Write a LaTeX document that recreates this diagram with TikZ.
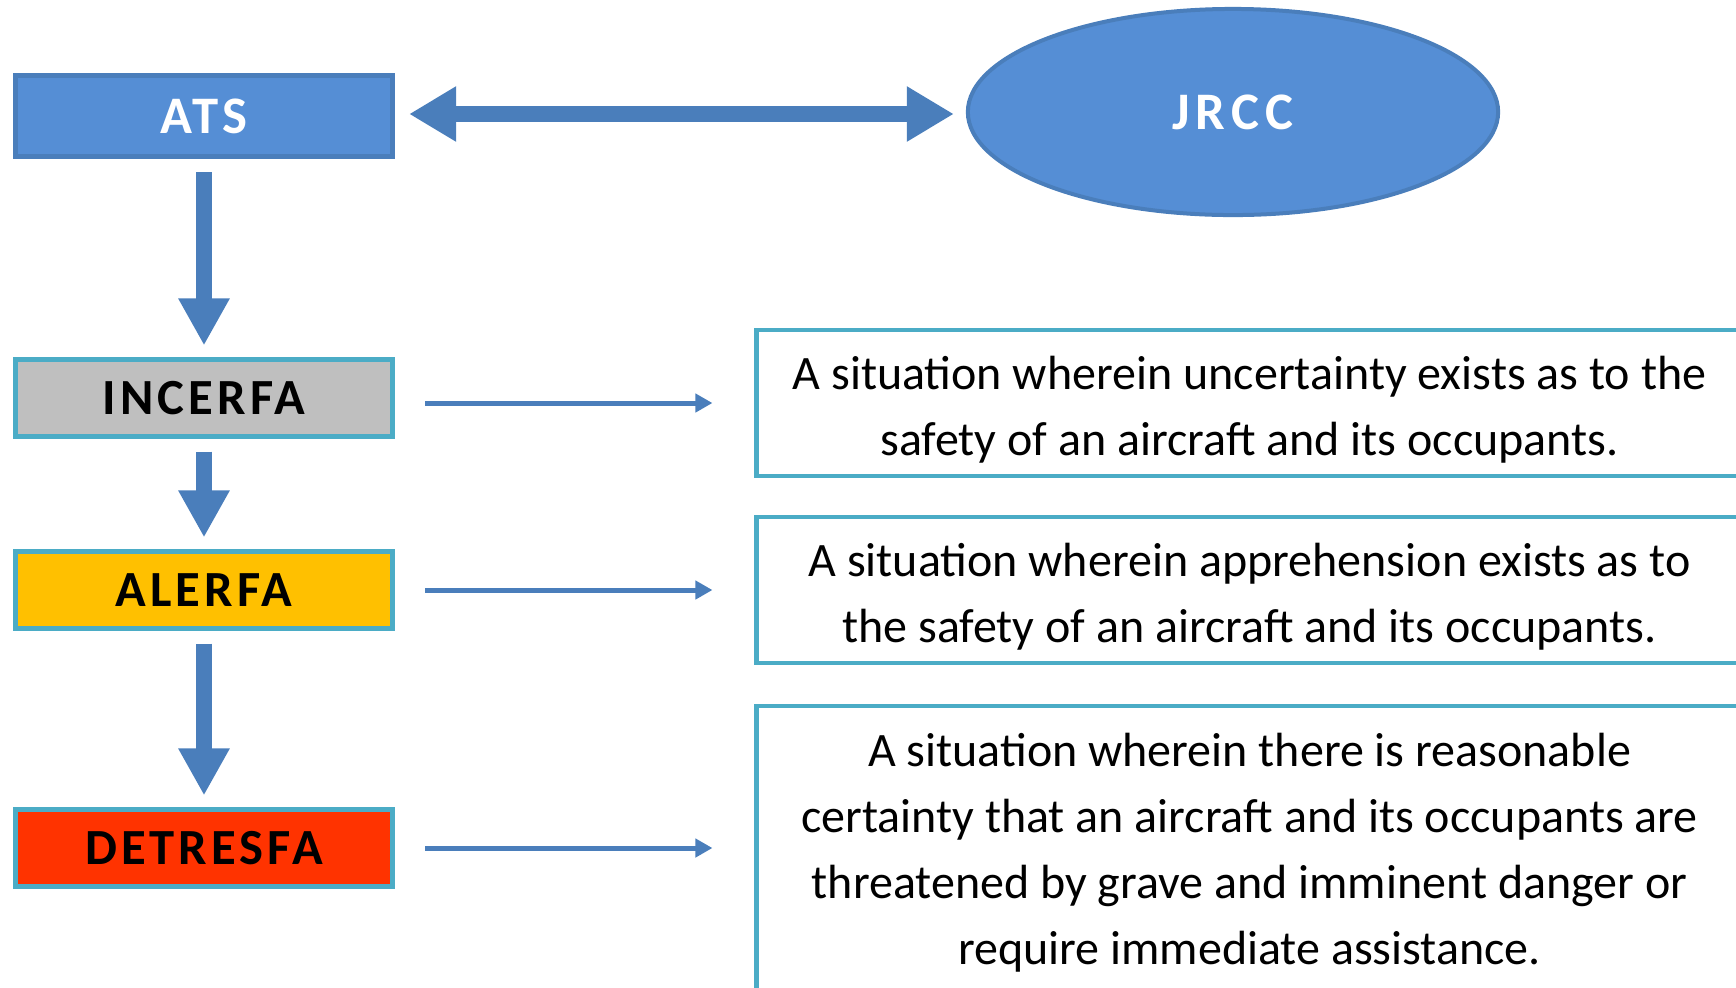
\documentclass[tikz,border=0pt]{standalone}
\usepackage{fontspec}
\setmainfont{Carlito}
\newfontfamily\spacedfont[LetterSpace=8]{Carlito}
\newfontfamily\widefont[LetterSpace=12]{Carlito}
\newcommand{\descstrut}{\rule{0pt}{0.46cm}}
\usetikzlibrary{arrows.meta,shapes.geometric}

\definecolor{atsblue}{HTML}{558ED5}
\definecolor{atsedge}{HTML}{4A7EBB}
\definecolor{arrowblue}{HTML}{4A7EBB}
\definecolor{framecyan}{HTML}{4BACC6}
\definecolor{incgray}{HTML}{BFBFBF}
\definecolor{alertyellow}{HTML}{FFC000}
\definecolor{distressred}{HTML}{FF3300}

\tikzset{
  statebox/.style={draw=framecyan, line width=0.05cm, minimum width=3.77cm, minimum height=0.76cm, inner sep=0pt, font=\spacedfont\bfseries\fontsize{14.4}{16}\selectfont},
  descbox/.style={draw=framecyan, line width=0.045cm, fill=white, minimum width=9.85cm, inner sep=0pt, align=center, font=\fontsize{13.65}{18.8}\selectfont},
  bigarrow/.style={draw=arrowblue, line width=0.16cm, -{Triangle[length=0.47cm,width=0.48cm]}, shorten <=0.13cm, shorten >=0.12cm},
  thinarrow/.style={draw=arrowblue, line width=0.05cm, -{Triangle[length=0.17cm,width=0.18cm]}, shorten <=0.3cm, shorten >=0.42cm},
}

\begin{document}
\begin{tikzpicture}[x=0.01cm,y=-0.01cm]
        \useasboundingbox (0,0) rectangle (1736,987);

        % top row
        \node[draw=atsedge, fill=atsblue, line width=0.05cm, minimum width=3.77cm, minimum height=0.81cm, inner sep=0pt, text=white, font=\spacedfont\bfseries\fontsize{15}{16}\selectfont] (ats) at (204,116) {ATS};
        \node[ellipse, draw=atsedge, fill=atsblue, line width=0.04cm, minimum width=5.30cm, minimum height=2.06cm, inner sep=0pt, text=white, font=\widefont\bfseries\fontsize{15}{16}\selectfont] (jrcc) at (1233,112) {JRCC};
        \draw[bigarrow, {Triangle[length=0.47cm,width=0.52cm]}-{Triangle[length=0.47cm,width=0.52cm]}, shorten <=0.14cm, shorten >=0.12cm] ([yshift=0.02cm]ats.east) -- ([yshift=0.02cm]ats.east -| jrcc.west);

        % alert phases
        \node[statebox, fill=incgray] (incerfa) at (204,398) {INCERFA};
        \node[statebox, fill=alertyellow] (alerfa) at (204,590) {ALERFA};
        \node[statebox, fill=distressred] (detresfa) at (204,848) {DETRESFA};

        \draw[bigarrow] (ats) -- (incerfa);
        \draw[bigarrow] (incerfa) -- (alerfa);
        \draw[bigarrow] (alerfa) -- (detresfa);

        % descriptions
        \node[descbox, minimum height=1.46cm] (incdesc) at (1249.5,403) {\descstrut A situation wherein uncertainty exists as to the\\safety of an aircraft and its occupants.};
        \node[descbox, minimum height=1.46cm] (alerdesc) at (1249.5,590) {\descstrut A situation wherein apprehension exists as to\\the safety of an aircraft and its occupants.};
        \node[descbox, minimum height=2.94cm] (detrdesc) at (1249.5,853) {A situation wherein there is reasonable\\certainty that an aircraft and its occupants are\\threatened by grave and imminent danger or\\require immediate assistance.};

        \draw[thinarrow] ([yshift=-0.05cm]incerfa.east) -- ([yshift=-0.05cm]incerfa.east -| incdesc.west);
        \draw[thinarrow] (alerfa.east) -- (alerfa.east -| alerdesc.west);
        \draw[thinarrow] (detresfa.east) -- (detresfa.east -| detrdesc.west);
\end{tikzpicture}
\end{document}
